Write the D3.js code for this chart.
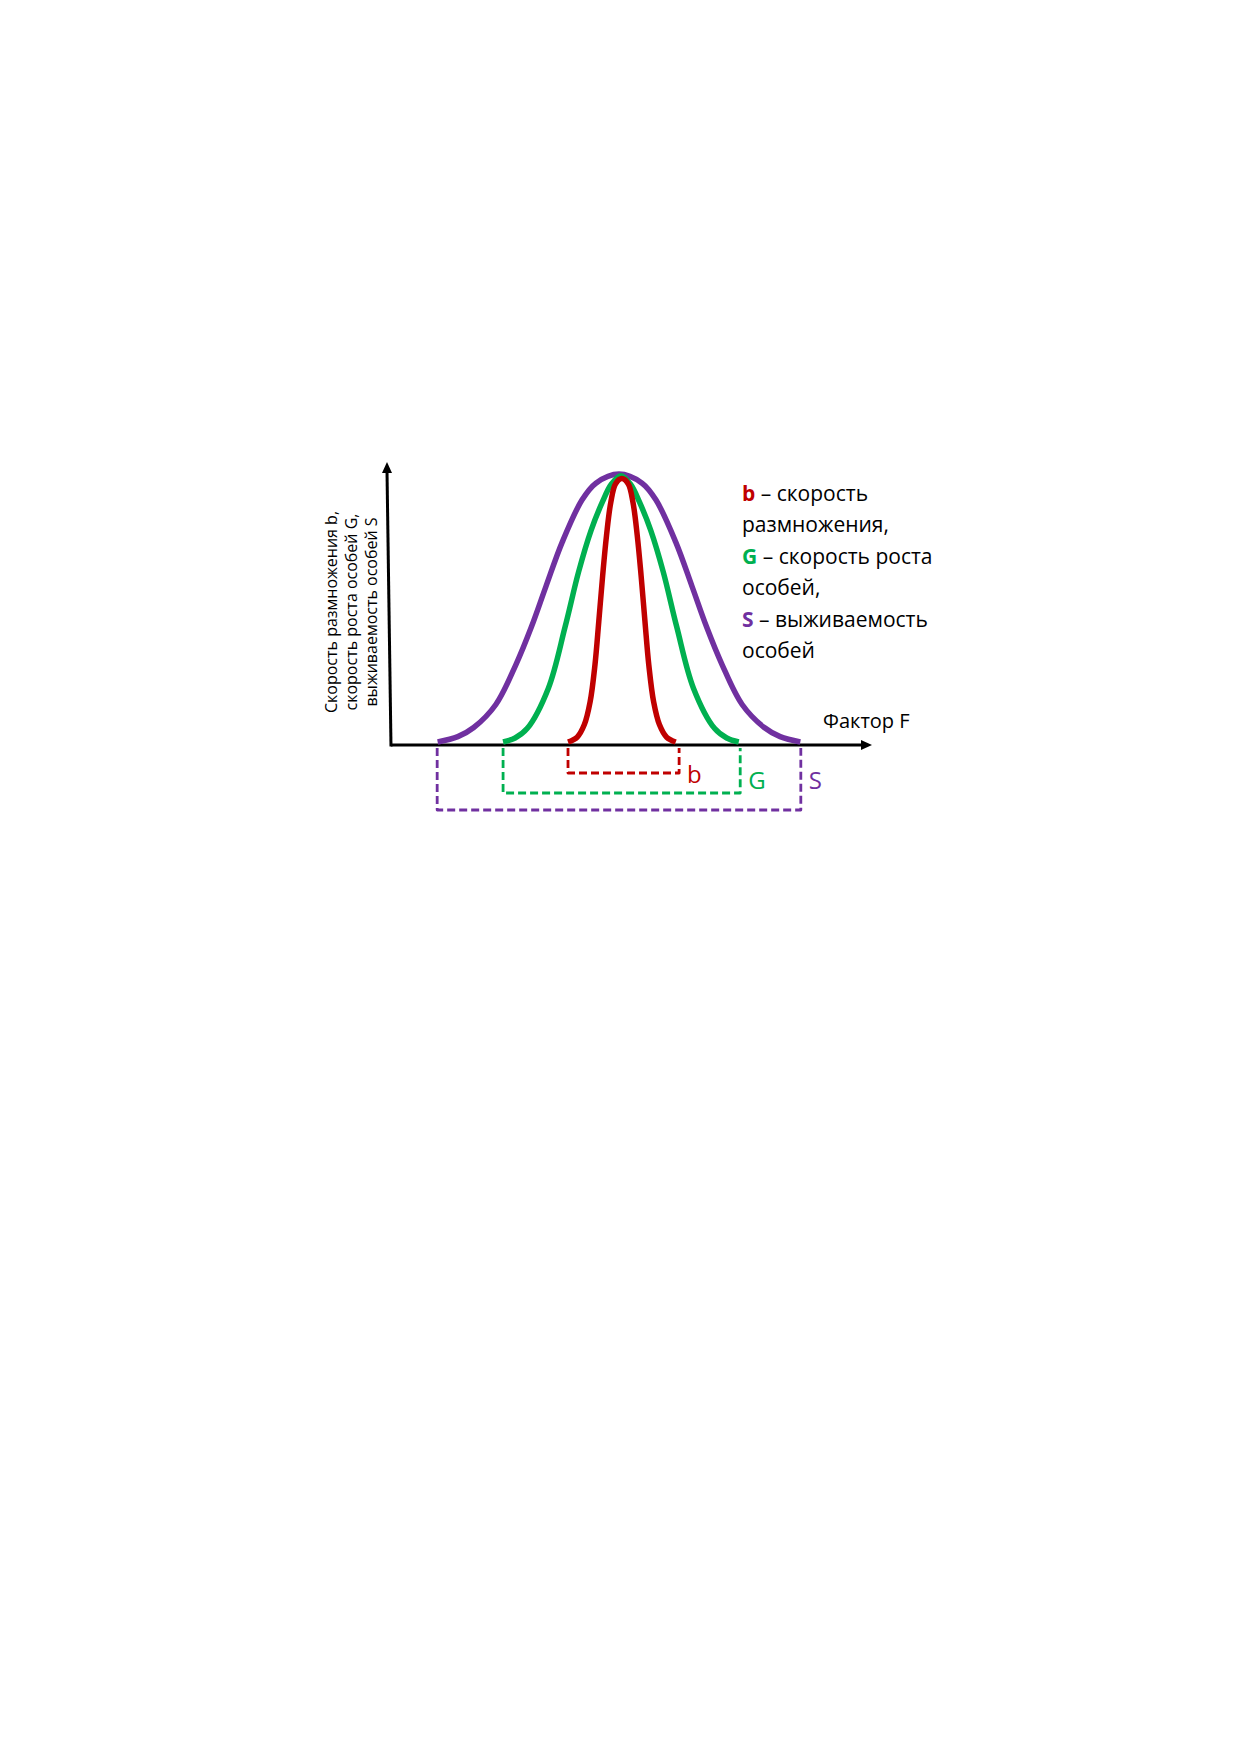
<!DOCTYPE html>
<html>
<head>
<meta charset="utf-8">
<title>Фактор F</title>
<script src="https://d3js.org/d3.v7.min.js"></script>
<style>
  body { margin: 0; background: #fff; }
</style>
</head>
<body>
<div id="chart"></div>
<script>

// curves: [factor F, rate in % of optimum]
const curveS = [[9.7,0],[13.9,2],[17.2,5.4],[21.8,14],[26.0,29],[29.2,43],[32.2,58],[35.6,74.6],
  [39.7,90.3],[42.6,96.6],[47.4,100],[52.2,96.6],[55.1,90.3],[59.2,74.6],[62.6,58],[65.6,43],
  [68.8,29],[73.0,14],[77.6,5.4],[80.9,2],[85.1,0]];
const curveG = [[23.3,0],[25.8,1.5],[28.3,5],[32.7,20],[36.2,43],[39.0,63.5],[41.6,79],[44.0,89.8],
  [45.8,96.2],[47.8,99.4],[49.8,96.2],[51.6,89.8],[54.0,79],[56.6,63.5],[59.4,43],[62.9,20],
  [67.3,5],[69.8,1.5],[72.3,0]];
const curveB = [[36.8,0],[38.7,1.8],[40.2,6.5],[41.4,15],[42.4,28.7],[43.2,45],[44.0,62],[44.8,77],
  [45.7,89.5],[46.7,96.4],[48.0,98.3],[49.3,96.4],[50.3,89.5],[51.2,77],[52.0,62],[52.8,45],
  [53.6,28.7],[54.6,15],[55.8,6.5],[57.3,1.8],[59.2,0]];

// tolerance ranges (dashed brackets)
const rangeB = [36.8, 59.9];
const rangeG = [23.3, 72.6];
const rangeS = [9.6, 85.2];

const legendLines = [
  ["b", " – скорость"],
  [null, "размножения,"],
  ["G", " – скорость роста"],
  [null, "особей,"],
  ["S", " – выживаемость"],
  [null, "особей"]
];
const yTitle = ["Скорость размножения b,", "скорость роста особей G,", "выживаемость особей S"];
const xTitle = "Фактор F";

const colors = { b: "#C00000", G: "#00B050", S: "#7030A0" };
const font = "'Open Sans', 'Noto Sans', sans-serif";

const width = 1240, height = 1754;

const x = d3.scaleLinear().domain([0, 100]).range([391, 872]);
const y = d3.scaleLinear().domain([0, 104.5]).range([742, 462]);

const svg = d3.create("svg")
    .attr("width", width)
    .attr("height", height)
    .attr("viewBox", [0, 0, width, height])
    .style("background", "#fff")
    .attr("font-family", font);

const axisY = y(0) + 3;

// axes (no ticks, just arrows)
const axes = svg.append("g").attr("stroke", "#000").attr("stroke-width", 3);
axes.append("line")
    .attr("x1", x(0)).attr("y1", axisY)
    .attr("x2", x(100) - 8).attr("y2", axisY);
axes.append("line")
    .attr("x1", x(0)).attr("y1", axisY + 1.5)
    .attr("x2", x(0) - 4).attr("y2", y(104.5) + 9);
svg.append("path")
    .attr("fill", "#000")
    .attr("d", `M${x(100)},${axisY} L${x(100) - 11},${axisY - 5} L${x(100) - 11},${axisY + 5} Z`);
svg.append("path")
    .attr("fill", "#000")
    .attr("d", `M${x(0) - 4},${y(104.5)} L${x(0) - 9},${y(104.5) + 11} L${x(0) + 1},${y(104.5) + 11} Z`);

// dashed brackets
const brackets = [
  { key: "b", range: rangeB, depth: 28, labelDy: 38 },
  { key: "G", range: rangeG, depth: 48, labelDy: 44 },
  { key: "S", range: rangeS, depth: 65, labelDy: 44 }
];

const bracketLine = d3.line();
svg.append("g")
  .selectAll("path")
  .data(brackets)
  .join("path")
    .attr("fill", "none")
    .attr("stroke", d => colors[d.key])
    .attr("stroke-width", 2.8)
    .attr("stroke-dasharray", "8,4")
    .attr("stroke-linejoin", "round")
    .attr("d", d => bracketLine([
      [x(d.range[0]), axisY + 3],
      [x(d.range[0]), axisY + d.depth],
      [x(d.range[1]), axisY + d.depth],
      [x(d.range[1]), axisY + 3]
    ]));

svg.append("g")
  .selectAll("text")
  .data(brackets)
  .join("text")
    .attr("x", d => x(d.range[1]) + 8)
    .attr("y", d => axisY + d.labelDy)
    .attr("fill", d => colors[d.key])
    .attr("font-size", 24)
    .text(d => d.key);

// bell curves
const line = d3.line()
    .x(d => x(d[0]))
    .y(d => y(d[1]))
    .curve(d3.curveCatmullRom.alpha(0.5));

const curves = [
  { key: "S", values: curveS },
  { key: "G", values: curveG },
  { key: "b", values: curveB }
];

svg.append("g")
  .selectAll("path")
  .data(curves)
  .join("path")
    .attr("fill", "none")
    .attr("stroke", d => colors[d.key])
    .attr("stroke-width", 5.5)
    .attr("d", d => line(d.values));

// legend
const legend = svg.append("g")
    .attr("font-size", 21)
    .attr("fill", "#000");

legendLines.forEach((l, i) => {
  const t = legend.append("text")
      .attr("x", 742)
      .attr("y", 501 + i * 31.4);
  if (l[0]) {
    t.append("tspan")
        .attr("font-weight", "bold")
        .attr("fill", colors[l[0]])
        .text(l[0]);
  }
  t.append("tspan").text(l[1]);
});

// axis titles
svg.append("text")
    .attr("x", 823)
    .attr("y", 728)
    .attr("font-size", 20)
    .text(xTitle);

svg.append("g")
    .attr("font-size", 16)
    .attr("text-anchor", "middle")
  .selectAll("text")
  .data(yTitle)
  .join("text")
    .attr("transform", (d, i) => `translate(${337 + i * 20},612) rotate(-90)`)
    .text(d => d);

document.getElementById("chart").appendChild(svg.node());

</script>
</body>
</html>
